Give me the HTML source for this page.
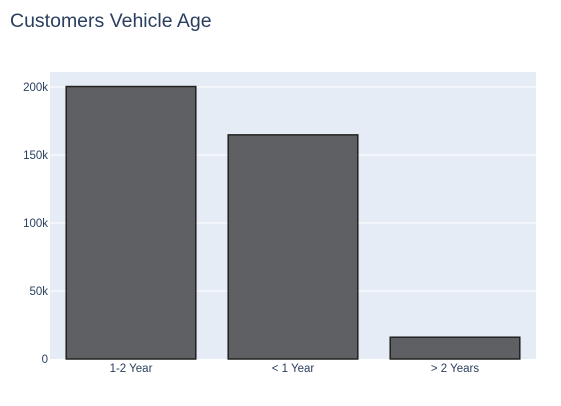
<!DOCTYPE html>
<html><head><meta charset="utf-8"><style>
body{margin:0;background:#fff;width:561px;height:401px;overflow:hidden;font-family:"Liberation Sans",sans-serif}
</style></head><body>
<svg id="c" width="561" height="401">
<text x="10" y="27" font-size="19.5" fill="#2a3f5f">Customers Vehicle Age</text>
<rect x="50" y="72" width="486" height="287" fill="#e5ecf6"/>
<g id="grid"></g><g id="bars"></g><g id="labels"></g>
</svg>
<script>
const categories=["1-2 Year","< 1 Year","> 2 Years"];
const values=[200316,164786,16007];
const yTicks=[0,50000,100000,150000,200000];
const yTickLabels=["0","50k","100k","150k","200k"];
const ns="http://www.w3.org/2000/svg";
const X0=50,W=486,Y0=359,H=287,YMAX=211000;
const y=v=>Y0-v/YMAX*H;
const band=W/categories.length;
const xc=i=>X0+band*(i+0.5);
const grid=document.getElementById('grid'),bars=document.getElementById('bars'),labels=document.getElementById('labels');
yTicks.forEach((t,i)=>{
 if(t>0){const l=document.createElementNS(ns,'line');
 l.setAttribute('x1',X0);l.setAttribute('x2',X0+W);l.setAttribute('y1',y(t));l.setAttribute('y2',y(t));
 l.setAttribute('stroke','#fff');l.setAttribute('stroke-width','1');
 
 
 grid.appendChild(l);}
 const tx=document.createElementNS(ns,'text');
 tx.setAttribute('x',X0-2);tx.setAttribute('y',y(t)+4);tx.setAttribute('text-anchor','end');
 tx.setAttribute('font-size','11.5');tx.setAttribute('fill','#2a3f5f');tx.textContent=yTickLabels[i];
 
 
 labels.appendChild(tx);
});
categories.forEach((c,i)=>{
 const bw=band*0.8;
 const r=document.createElementNS(ns,'rect');
 r.setAttribute('x',xc(i)-bw/2);r.setAttribute('y',y(values[i]));r.setAttribute('width',bw);r.setAttribute('height',Y0-y(values[i]));
 r.setAttribute('fill','#5f6064');r.setAttribute('stroke','#222');r.setAttribute('stroke-width','1.5');
 
 
 bars.appendChild(r);
 const tx=document.createElementNS(ns,'text');
 tx.setAttribute('x',xc(i));tx.setAttribute('y',Y0+13);tx.setAttribute('text-anchor','middle');
 tx.setAttribute('font-size','11.5');tx.setAttribute('fill','#2a3f5f');tx.textContent=c;
 
 
 labels.appendChild(tx);
});
</script>
</body></html>
